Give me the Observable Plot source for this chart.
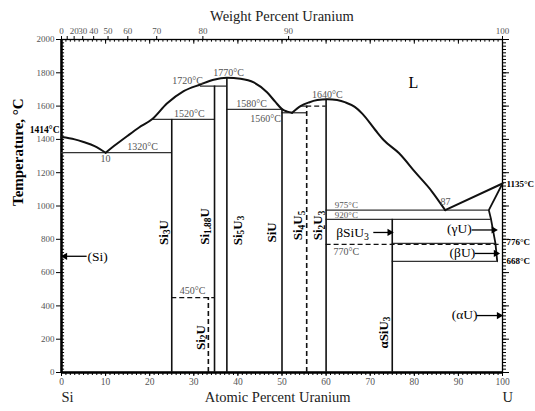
<!DOCTYPE html>
<html><head><meta charset="utf-8">
<script src="https://cdn.jsdelivr.net/npm/d3@7"></script>
<script src="https://cdn.jsdelivr.net/npm/@observablehq/plot@0.6"></script>
<style>body{margin:0;background:#fff}</style>
</head><body><div id="chart"></div>
<script>
const FONT = "'Liberation Serif', 'Times New Roman', serif";
const GRAY = "#555";

// Liquidus / solidus curves [atomic % U, temperature °C]
const curveSi = [[0,1414],[3,1400],[5,1384],[7.5,1360],[10,1320]];
const curveMid = [[10,1320],[12.5,1372],[15,1422],[17.5,1470],[20.6,1522],[23.9,1615],[27.7,1690],[31.5,1730],[34.5,1758],[37.5,1770],[40.6,1764],[43.6,1742],[46.6,1683],[48.5,1625],[50,1582],[51.2,1567],[52.3,1560]];
const curveRight = [[52.3,1560],[54.2,1600],[56.1,1622],[58,1636],[60.3,1641],[62.5,1636],[64.4,1622],[66.5,1595],[68.2,1555],[71.2,1455],[73.1,1395],[76.5,1318],[80.3,1200],[84,1087],[87,975]];
const curveU = [[87,975],[100,1135]];
const solidusU = [[100,1135],[96.9,975],[97.4,920],[98.4,776],[98.8,668]];

// Invariant horizontal lines
const hLines = [
  {x1:0, x2:25, t:1320},
  {x1:20.6, x2:34.7, t:1520},
  {x1:31.5, x2:37.5, t:1720},
  {x1:37.5, x2:50, t:1580},
  {x1:50, x2:55.6, t:1560},
  {x1:54.2, x2:55.6, t:1600},
  {x1:60, x2:96.9, t:975},
  {x1:60, x2:97.4, t:920},
  {x1:75, x2:98.4, t:776},
  {x1:75, x2:98.8, t:668}
];
const hDashed = [
  {x1:25, x2:34.7, t:450},
  {x1:55.6, x2:60, t:1600},
  {x1:60, x2:99.5, t:770}
];
// Compound lines
const vLines = [
  {x:25, t1:0, t2:1520},
  {x:34.7, t1:0, t2:1720},
  {x:37.5, t1:0, t2:1770},
  {x:50, t1:0, t2:1582},
  {x:60, t1:0, t2:1641},
  {x:75, t1:0, t2:920}
];
const vDashed = [
  {x:33.3, t1:0, t2:450},
  {x:55.6, t1:0, t2:1600}
];

// Temperature annotations
const tempLabels = [
  {x:18.4, t:1357, text:"1320°C"},
  {x:10, t:1285, text:"10"},
  {x:29.0, t:1556, text:"1520°C"},
  {x:28.6, t:1754, text:"1720°C"},
  {x:37.9, t:1802, text:"1770°C"},
  {x:43.1, t:1616, text:"1580°C"},
  {x:46.3, t:1526, text:"1560°C"},
  {x:60.3, t:1670, text:"1640°C"},
  {x:64.6, t:1005, text:"975°C"},
  {x:64.6, t:947, text:"920°C"},
  {x:64.6, t:727, text:"770°C"},
  {x:87.1, t:1027, text:"87"},
  {x:29.7, t:492, text:"450°C"}
];
const edgeLabels = [
  {x:100.9, t:1132, text:"1135°C", anchor:"start"},
  {x:100.9, t:785, text:"776°C", anchor:"start"},
  {x:100.9, t:671, text:"668°C", anchor:"start"},
  {x:-0.45, t:1458, text:"1414°C", anchor:"end"}
];
const compounds = [
  {x:23.1, t:841, text:"Si_3U"},
  {x:32.4, t:877, text:"Si_1.88U"},
  {x:39.9, t:853, text:"Si_5U_3"},
  {x:47.8, t:841, text:"SiU"},
  {x:53.7, t:883, text:"Si_4U_5"},
  {x:58.1, t:883, text:"Si_2U_3"},
  {x:31.5, t:210, text:"Si_2U"},
  {x:73.0, t:240, text:"αSiU_3"}
];
const phases = [
  {x:66.0, t:841, text:"βSiU_3"},
  {x:90.2, t:865, text:"(γU)"},
  {x:90.9, t:719, text:"(βU)"},
  {x:91.4, t:347, text:"(αU)"},
  {x:8.2, t:698, text:"(Si)"},
  {x:79.8, t:1742, text:"L"}
];
const arrows = [
  {x1:70.7, x2:75, t:841},
  {x1:93.0, x2:98.6, t:856},
  {x1:93.7, x2:99.1, t:715},
  {x1:94.1, x2:99.8, t:342},
  {x1:5.7, x2:0.2, t:698}
];

// Axes
const xMajor = d3.range(0, 101, 10);
const xMinor = d3.range(0, 101, 1);
const yMajor = d3.range(0, 2001, 200);
const yMinor = d3.range(0, 2001, 20);
const wtTicks = [0,10,20,30,40,50,60,70,80,90,100];
const wtLabels = ["0","","20","30","40","50","60","70","80","90","100"];
const M_U = 238.03, M_Si = 28.086;
const wtToAt = w => w === 100 ? 100 : 100 * (w / M_U) / (w / M_U + (100 - w) / M_Si);
const topPos = wtTicks.map(wtToAt);
const topLabel = new Map(topPos.map((p, i) => [p, wtLabels[i]]));
const plain = d => String(d);

const line = c => Plot.line(c, {x: d => d[0], y: d => d[1], curve: "monotone-x", stroke: "#111", strokeWidth: 2});

const svg = Plot.plot({
  width: 535, height: 411,
  marginLeft: 61, marginRight: 33, marginTop: 39, marginBottom: 39,
  x: {domain: [0, 100]},
  y: {domain: [0, 2000]},
  style: {fontFamily: FONT, fontSize: "10px", background: "#fff", overflow: "visible"},
  marks: [
    // axes
    Plot.axisX(xMinor, {anchor: "bottom", tickSize: 3, tickFormat: () => "", label: null}),
    Plot.axisX(xMajor, {anchor: "bottom", tickSize: 4, tickPadding: 1.5, tickFormat: plain, fill: GRAY, stroke: "#000", fontSize: 9.5, label: null}),
    Plot.axisY(yMajor, {anchor: "left", tickSize: 5, tickPadding: 2, tickFormat: plain, fill: GRAY, stroke: "#000", fontSize: 9, label: null}),
    Plot.ruleY(yMinor, {x1: 0, x2: 0.7, stroke: "#000", strokeWidth: 1}),
    Plot.axisY(yMinor, {anchor: "right", tickSize: 3, tickFormat: () => "", label: null}),
    Plot.axisY(yMajor, {anchor: "right", tickSize: 6, tickFormat: () => "", label: null}),
    Plot.axisX(topPos, {anchor: "top", tickSize: 4, tickPadding: 1.5, tickFormat: d => topLabel.get(d), fill: GRAY, stroke: "#000", fontSize: 9, label: null}),
    Plot.ruleX(xMinor, {y1: 2000, y2: 1984, stroke: "#000", strokeWidth: 1}),
    Plot.ruleX(xMajor, {y1: 2000, y2: 1972, stroke: "#000", strokeWidth: 1}),
    Plot.frame({stroke: "#000", strokeWidth: 1.3}),
    Plot.ruleX([0], {stroke: "#000", strokeWidth: 2.5}),
    Plot.ruleY([0], {stroke: "#000", strokeWidth: 2.5}),
    // phase boundaries
    Plot.ruleY(hLines, {y: "t", x1: "x1", x2: "x2", stroke: "#333", strokeWidth: 1.3}),
    Plot.ruleY(hDashed, {y: "t", x1: "x1", x2: "x2", stroke: "#111", strokeWidth: 1.3, strokeDasharray: "5,3"}),
    Plot.ruleX(vLines, {x: "x", y1: "t1", y2: "t2", stroke: "#111", strokeWidth: 1.6}),
    Plot.ruleX(vDashed, {x: "x", y1: "t1", y2: "t2", stroke: "#111", strokeWidth: 1.6, strokeDasharray: "5,3"}),
    line(curveSi), line(curveMid), line(curveRight), line(curveU),
    Plot.line(solidusU, {x: d => d[0], y: d => d[1], stroke: "#111", strokeWidth: 1.8}),
    // arrows
    Plot.link(arrows, {x1: "x1", x2: "x2", y1: "t", y2: "t", stroke: "#000", strokeWidth: 1.3}),
    Plot.dot(arrows, {x: d => d.x2 - Math.sign(d.x2 - d.x1) * 0.6, y: "t", symbol: "triangle", r: 2.7,
      rotate: d => d.x2 > d.x1 ? 90 : -90, fill: "#000", stroke: "none"}),
    // labels
    Plot.text(tempLabels, {x: "x", y: "t", text: "text", fill: GRAY, fontSize: d => (d.text === "975°C" || d.text === "920°C") ? 9 : 10}),
    Plot.text(edgeLabels.filter(d => d.anchor === "start"), {x: "x", y: "t", text: "text", textAnchor: "start", fill: "#000", fontWeight: "bold", fontSize: 9}),
    Plot.text(edgeLabels.filter(d => d.anchor === "end"), {x: "x", y: "t", text: "text", textAnchor: "end", fill: "#000", fontWeight: "bold", fontSize: 9.5}),
    Plot.text(compounds, {x: "x", y: "t", text: "text", rotate: -90, fill: "#000", fontWeight: "bold", fontSize: 13}),
    Plot.text(phases, {x: "x", y: "t", text: "text", fill: "#000", fontSize: d => d.text === "L" ? 16 : 13.5}),
    // titles
    Plot.text(["Weight Percent Uranium"], {frameAnchor: "top", dy: -29, fill: "#222", fontSize: 14.5}),
    Plot.text(["Atomic Percent Uranium"], {x: 49, frameAnchor: "bottom", dy: 29, fill: "#222", fontSize: 14.5}),
    Plot.text(["Si"], {x: 0, frameAnchor: "bottom", dy: 29, textAnchor: "start", fill: "#222", fontSize: 14.5}),
    Plot.text(["U"], {x: 100, frameAnchor: "bottom", dy: 29, textAnchor: "start", fill: "#222", fontSize: 14.5}),
    Plot.text(["Temperature, °C"], {frameAnchor: "left", dx: -43, rotate: -90, fill: "#000", fontWeight: "bold", fontSize: 15})
  ]
});

// subscripts: "_digits" -> subscript tspan
const NS = "http://www.w3.org/2000/svg";
d3.select(svg).selectAll("text").each(function() {
  if (this.querySelector("tspan")) return;
  const s = this.textContent;
  if (!s.includes("_")) return;
  const parts = s.split(/(_[0-9.]+)/).filter(Boolean);
  this.textContent = "";
  let prevSub = false;
  for (const p of parts) {
    const t = document.createElementNS(NS, "tspan");
    if (p.startsWith("_")) {
      t.textContent = p.slice(1);
      t.setAttribute("font-size", "72%");
      t.setAttribute("dy", "0.3em");
      prevSub = true;
    } else {
      t.textContent = p;
      if (prevSub) t.setAttribute("dy", "-0.216em");
      prevSub = false;
    }
    this.appendChild(t);
  }
});
document.getElementById("chart").appendChild(svg);
</script>
</body></html>
